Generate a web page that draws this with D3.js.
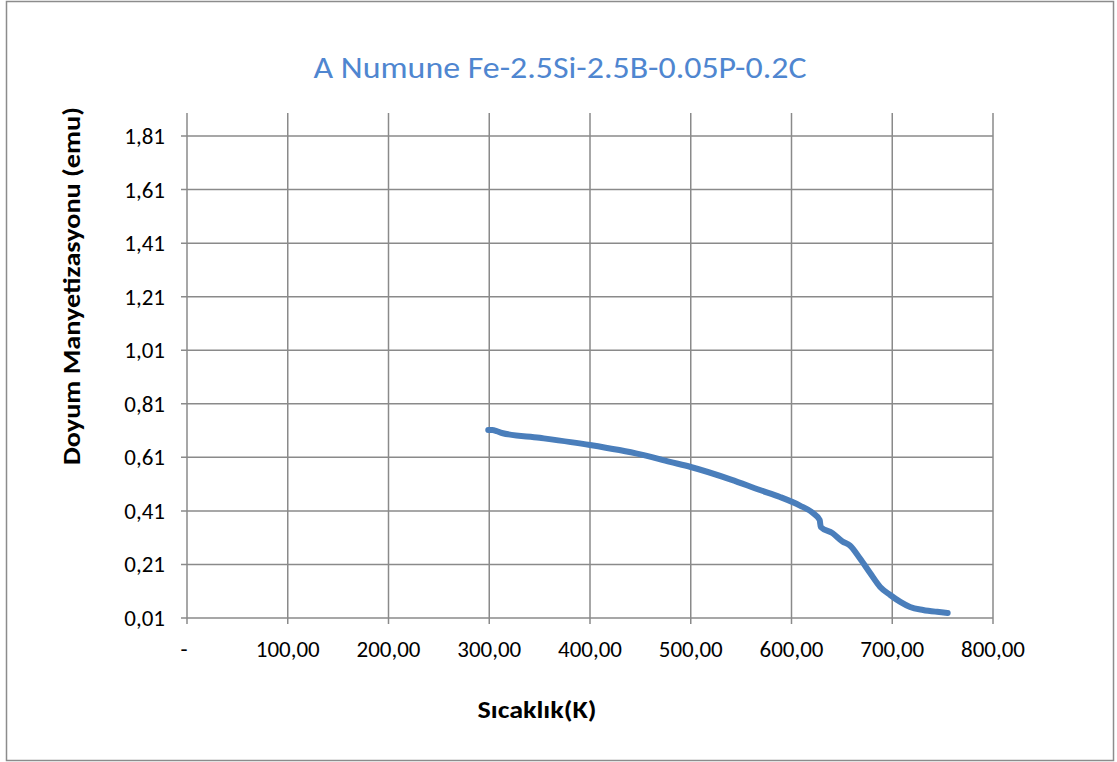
<!DOCTYPE html>
<html><head><meta charset="utf-8">
<script src="https://cdn.jsdelivr.net/npm/d3@7"></script>
<style>body{margin:0;background:#fff;} svg{display:block;}</style>
</head><body>
<script>
const titleText = "A Numune Fe-2.5Si-2.5B-0.05P-0.2C";
const xTitle = "Sıcaklık(K)";
const yTitle = "Doyum Manyetizasyonu (emu)";
const xTicks = [0,100,200,300,400,500,600,700,800];
const xTickLabels = ["-","100,00","200,00","300,00","400,00","500,00","600,00","700,00","800,00"];
const yTicks = [0.01,0.21,0.41,0.61,0.81,1.01,1.21,1.41,1.61,1.81];
const yTickLabels = ["0,01","0,21","0,41","0,61","0,81","1,01","1,21","1,41","1,61","1,81"];
const temps = [299,303,307.5,312.5,350,400,450,479.4,500,540,568.7,588.6,608.4,621.3,628,629,640.7,650.6,658,668,678,688,698,708,717.7,730.6,744.5,755];
const mags  = [0.712,0.712,0.708,0.701,0.683,0.656,0.621,0.593,0.574,0.527,0.488,0.462,0.430,0.402,0.376,0.350,0.327,0.296,0.281,0.232,0.178,0.126,0.096,0.070,0.051,0.040,0.033,0.029];

const W = 1117, H = 762;
const svg = d3.select("body").append("svg").attr("width", W).attr("height", H);
svg.append("rect").attr("x",6.5).attr("y",1.5).attr("width",1107).attr("height",759)
  .attr("fill","#fff").attr("stroke","#8c8c8c").attr("stroke-width",1.5);

const L=187, R=993, T=113, B=618;
const x = d3.scaleLinear().domain([0,800]).range([L,R]);
const y = d3.scaleLinear().domain([0.01,1.896]).range([B,T]);

const grid = svg.append("g");
grid.selectAll("line.v").data(xTicks.slice(1)).enter().append("line")
  .attr("x1",d=>x(d)).attr("x2",d=>x(d)).attr("y1",T).attr("y2",B+6)
  .attr("stroke","#8a8a8a").attr("stroke-width",1.5);
grid.selectAll("line.h").data(yTicks.slice(1)).enter().append("line")
  .attr("x1",L-6).attr("x2",R).attr("y1",d=>y(d)).attr("y2",d=>y(d))
  .attr("stroke","#8a8a8a").attr("stroke-width",1.5);
svg.append("line").attr("x1",L).attr("x2",L).attr("y1",T).attr("y2",B+6).attr("stroke","#8a8a8a").attr("stroke-width",1.5);
svg.append("line").attr("x1",L-6).attr("x2",R).attr("y1",B).attr("y2",B).attr("stroke","#8a8a8a").attr("stroke-width",1.5);

const font = "Carlito, Calibri, 'Open Sans', 'Liberation Sans', sans-serif";
svg.selectAll("text.yt").data(yTicks).enter().append("text")
  .attr("x",165).attr("y",d=>y(d)+8).attr("text-anchor","end")
  .attr("font-family",font).attr("font-size",23).attr("fill","#000")
  .text((d,i)=>yTickLabels[i]);
svg.selectAll("text.xt").data(xTicks).enter().append("text")
  .attr("x",(d,i)=> i===0 ? x(d)-3 : x(d)).attr("y",657).attr("text-anchor","middle")
  .attr("font-family",font).attr("font-size",23).attr("fill","#000")
  .text((d,i)=>xTickLabels[i]);

svg.append("text").attr("x",560).attr("y",78).attr("text-anchor","middle")
  .attr("font-family",font).attr("font-size",30).attr("fill","#4f86d0")
  .attr("textLength",493).attr("lengthAdjust","spacingAndGlyphs")
  .text(titleText);
svg.append("text").attr("x",537).attr("y",718).attr("text-anchor","middle")
  .attr("font-family",font).attr("font-size",24).attr("font-weight","bold")
  .attr("textLength",119).attr("lengthAdjust","spacingAndGlyphs")
  .text(xTitle);
svg.append("text").attr("transform","translate(80,286) rotate(-90)").attr("text-anchor","middle")
  .attr("font-family",font).attr("font-size",24).attr("font-weight","bold")
  .attr("textLength",358).attr("lengthAdjust","spacingAndGlyphs")
  .text(yTitle);

const line = d3.line().x((d,i)=>x(temps[i])).y(d=>y(d)).curve(d3.curveMonotoneX);
svg.append("path").datum(mags).attr("d",line).attr("fill","none")
  .attr("stroke","#4a7ebb").attr("stroke-width",6).attr("stroke-linecap","round").attr("stroke-linejoin","round");
</script>
</body></html>
